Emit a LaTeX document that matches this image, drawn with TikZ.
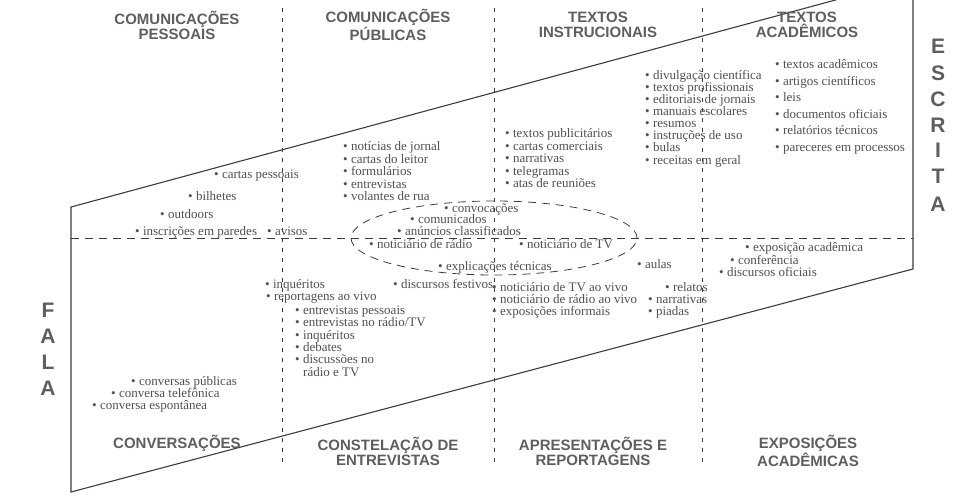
\documentclass[tikz,border=0pt]{standalone}
\usepackage{fontspec}
\setmainfont{Liberation Serif}
\newfontfamily\headfont{Liberation Sans}
\usepackage{tikz}
\usetikzlibrary{shapes.geometric}
\definecolor{penink}{HTML}{3C3C3C}
\definecolor{textink}{HTML}{505050}
\definecolor{headink}{HTML}{5E5E5E}

\begin{document}
\begin{tikzpicture}
[every node/.style={inner sep=0pt},
 item/.style={anchor=west, text=textink, text height=8pt, text depth=2pt, font=\fontsize{13}{13}\selectfont},
 head/.style={align=center, text=headink, font=\headfont\bfseries\fontsize{15}{15}\selectfont},
 side/.style={text=headink, font=\headfont\bfseries\fontsize{21}{21}\selectfont},
 frame/.style={line width=1.1pt, draw=penink},
 split/.style={line width=0.8pt, draw=penink, dash pattern=on 4pt off 6pt},
 cross/.style={line width=0.8pt, draw=penink, dash pattern=on 8pt off 6pt}]
\useasboundingbox (0pt,0pt) rectangle (954pt,-501pt);

% frame and grid
\coordinate (ftl) at (71pt,-207pt);
\coordinate (ftr) at (913pt,21pt);
\coordinate (fbr) at (913pt,-269pt);
\coordinate (fbl) at (71pt,-492pt);
\begin{scope}
\clip (0pt,0pt) rectangle (954pt,-501pt);
\draw [frame] (ftl) -- (ftr) -- (fbr) -- (fbl) -- cycle;
\end{scope}
\coordinate (hl) at (71pt,-238pt);
\coordinate (hr) at (913pt,-238pt);
\draw [cross] (hl) -- (hr);
\coordinate (v1t) at (282pt,-8pt);
\coordinate (v1b) at (282pt,-467pt);
\coordinate (v2t) at (494pt,-8pt);
\coordinate (v2b) at (494pt,-467pt);
\coordinate (v3t) at (702pt,-8pt);
\coordinate (v3b) at (702pt,-467pt);
\draw [split] (v1t) -- (v1b);
\draw [split] (v2t) -- (v2b);
\draw [split] (v3t) -- (v3b);
\node (ring) [ellipse, draw=penink, cross, minimum width=286pt, minimum height=74pt] at (494pt,-238pt) {};

% headings
\node (hpes) [head] at (177pt,-25pt) {COMUNICAÇÕES\\PESSOAIS};
\node (hpub) [head] at (388pt,-25pt) {COMUNICAÇÕES\\PÚBLICAS};
\node (hins) [head] at (598pt,-25pt) {TEXTOS\\INSTRUCIONAIS};
\node (hacd) [head] at (807pt,-25pt) {TEXTOS\\ACADÊMICOS};
\node (hcon) [head] at (177pt,-443pt) {CONVERSAÇÕES};
\node (hent) [head] at (388pt,-451pt) {CONSTELAÇÃO DE\\ENTREVISTAS};
\node (hapr) [head] at (593pt,-451pt) {APRESENTAÇÕES E\\REPORTAGENS};
\node (hexp) [head] at (808pt,-451pt) {EXPOSIÇÕES\\ACADÊMICAS};

% escrita / fala
\node (e1) [side] at (938pt,-46pt) {E};
\node (e2) [side] at (938pt,-73pt) {S};
\node (e3) [side] at (938pt,-99pt) {C};
\node (e4) [side] at (938pt,-125pt) {R};
\node (e5) [side] at (938pt,-150pt) {I};
\node (e6) [side] at (938pt,-176pt) {T};
\node (e7) [side] at (938pt,-204pt) {A};
\node (f1) [side] at (48pt,-310pt) {F};
\node (f2) [side] at (48pt,-336pt) {A};
\node (f3) [side] at (48pt,-362pt) {L};
\node (f4) [side] at (48pt,-388pt) {A};

% comunicacoes pessoais
\node (cpe) [item] at (214pt,-175pt) {• cartas pessoais};
\node (bil) [item] at (188pt,-197pt) {• bilhetes};
\node (out) [item] at (160pt,-215pt) {• outdoors};
\node (ins) [item] at (135pt,-232pt) {• inscrições em paredes};
\node (avi) [item] at (267pt,-232pt) {• avisos};

% comunicacoes publicas
\node (noj) [item] at (343pt,-147pt) {• notícias de jornal};
\node (cdl) [item] at (343pt,-160pt) {• cartas do leitor};
\node (frm) [item] at (343pt,-172pt) {• formulários};
\node (ent) [item] at (343pt,-185pt) {• entrevistas};
\node (vol) [item] at (343pt,-197pt) {• volantes de rua};

% ellipse
\node (cvc) [item] at (444pt,-209pt) {• convocações};
\node (cmd) [item] at (410pt,-220pt) {• comunicados};
\node (anc) [item] at (397pt,-232pt) {• anúncios classificados};
\node (ndr) [item] at (369pt,-245pt) {• noticiário de rádio};
\node (ntv) [item] at (519pt,-245pt) {• noticiário de TV};
\node (ext) [item] at (438pt,-267pt) {• explicações técnicas};

% textos instrucionais
\node (tpu) [item] at (505pt,-134pt) {• textos publicitários};
\node (cco) [item] at (505pt,-147pt) {• cartas comerciais};
\node (nar) [item] at (505pt,-159pt) {• narrativas};
\node (tel) [item] at (505pt,-172pt) {• telegramas};
\node (ata) [item] at (505pt,-184pt) {• atas de reuniões};
\node (dvc) [item] at (645pt,-76pt) {• divulgação científica};
\node (tpr) [item] at (645pt,-88pt) {• textos profissionais};
\node (edj) [item] at (645pt,-100pt) {• editoriais de jornais};
\node (mes) [item] at (645pt,-112pt) {• manuais escolares};
\node (res) [item] at (645pt,-124pt) {• resumos};
\node (idu) [item] at (645pt,-136pt) {• instruções de uso};
\node (bul) [item] at (645pt,-148pt) {• bulas};
\node (reg) [item] at (645pt,-161pt) {• receitas em geral};

% textos academicos
\node (tac) [item] at (775pt,-65pt) {• textos acadêmicos};
\node (aci) [item] at (775pt,-82pt) {• artigos científicos};
\node (lei) [item] at (775pt,-98pt) {• leis};
\node (dof) [item] at (775pt,-115pt) {• documentos oficiais};
\node (rte) [item] at (775pt,-131pt) {• relatórios técnicos};
\node (pep) [item] at (775pt,-148pt) {• pareceres em processos};

% exposicoes academicas
\node (exa) [item] at (745pt,-248pt) {• exposição acadêmica};
\node (cnf) [item] at (730pt,-261pt) {• conferência};
\node (dso) [item] at (719pt,-273pt) {• discursos oficiais};

% apresentacoes e reportagens
\node (aul) [item] at (637pt,-265pt) {• aulas};
\node (rel) [item] at (665pt,-288pt) {• relatos};
\node (nrr) [item] at (648pt,-300pt) {• narrativas};
\node (pia) [item] at (648pt,-312pt) {• piadas};
\node (ntva) [item] at (492pt,-288pt) {• noticiário de TV ao vivo};
\node (ndra) [item] at (492pt,-300pt) {• noticiário de rádio ao vivo};
\node (exi) [item] at (492pt,-312pt) {• exposições informais};

% constelacao de entrevistas
\node (inq) [item] at (265pt,-285pt) {• inquéritos};
\node (rav) [item] at (266pt,-297pt) {• reportagens ao vivo};
\node (dfe) [item] at (393pt,-285pt) {• discursos festivos};
\node (epe) [item] at (295pt,-311pt) {• entrevistas pessoais};
\node (ert) [item] at (295pt,-323pt) {• entrevistas no rádio/TV};
\node (inq2) [item] at (295pt,-336pt) {• inquéritos};
\node (deb) [item] at (295pt,-348pt) {• debates};
\node (dis) [item] at (295pt,-360pt) {• discussões no};
\node (rtv) [item] at (303pt,-373pt) {rádio e TV};

% conversacoes
\node (cpu) [item] at (131pt,-382pt) {• conversas públicas};
\node (cte) [item] at (111pt,-394pt) {• conversa telefônica};
\node (ces) [item] at (92pt,-406pt) {• conversa espontânea};
\end{tikzpicture}
\end{document}
